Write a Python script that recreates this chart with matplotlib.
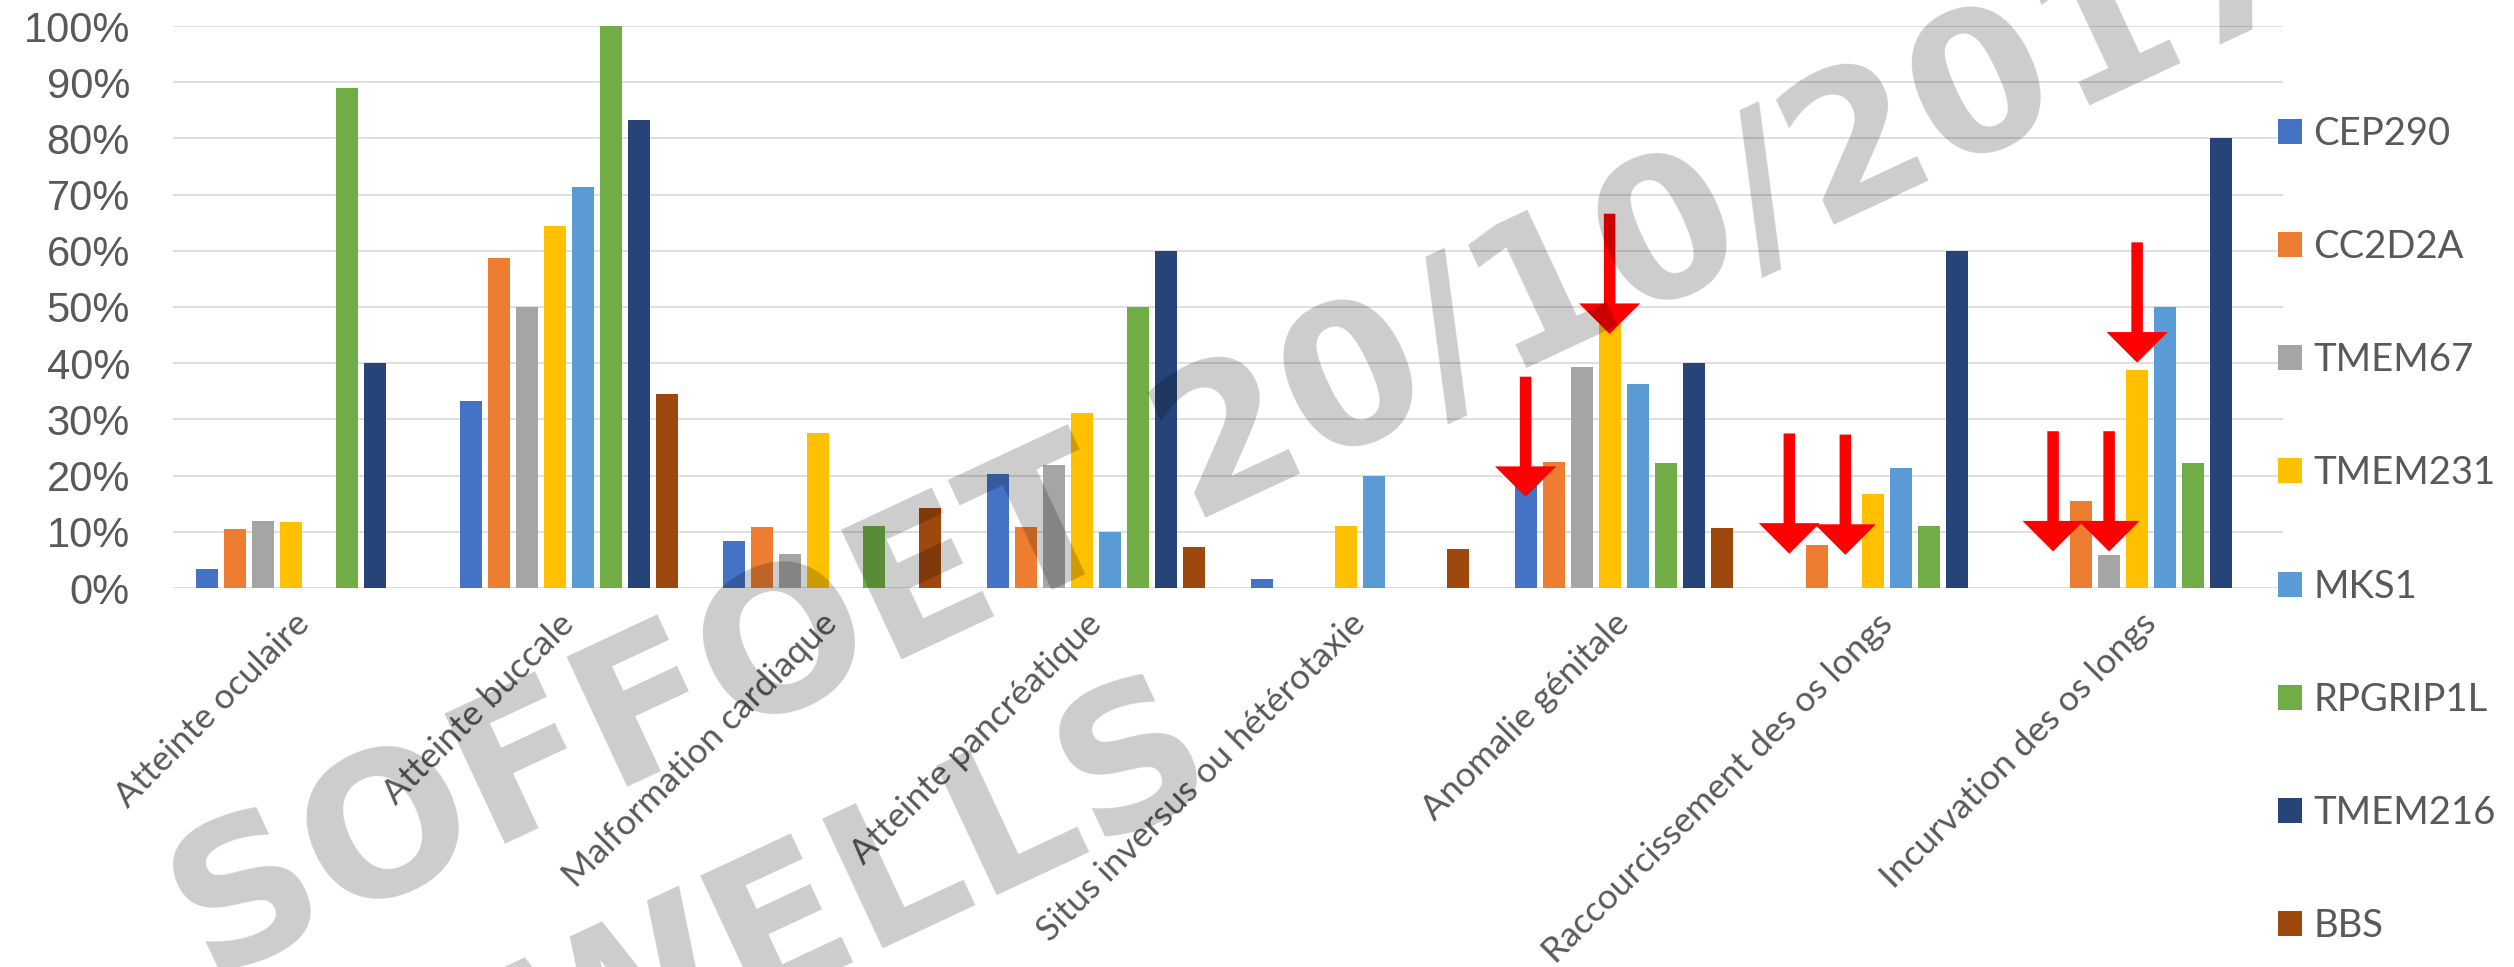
import numpy as np
import matplotlib
matplotlib.use("Agg")
import matplotlib.pyplot as plt
from matplotlib.ticker import PercentFormatter

categories = ["Atteinte oculaire", "Atteinte buccale", "Malformation cardiaque",
              "Atteinte pancréatique", "Situs inversus ou hétérotaxie",
              "Anomalie génitale", "Raccourcissement des os longs",
              "Incurvation des os longs"]
genes = ["CEP290", "CC2D2A", "TMEM67", "TMEM231", "MKS1", "RPGRIP1L", "TMEM216", "BBS"]
colors = ["#4472C4", "#ED7D31", "#A5A5A5", "#FFC000", "#5B9BD5", "#70AD47", "#264478", "#9E480E"]

# % of cases, one list per gene, in category order
cep290 = [3.3, 33.3, 8.3, 20.3, 1.6, 18.5, 0, 0]
cc2d2a = [10.5, 58.8, 10.8, 10.8, 0, 22.5, 7.7, 15.4]
tmem67 = [12.0, 50.0, 6.0, 21.9, 0, 39.3, 0, 5.9]
tmem231 = [11.7, 64.5, 27.6, 31.2, 11.1, 47.0, 16.7, 38.8]
mks1 = [0, 71.4, 0, 10.0, 20.0, 36.3, 21.4, 50.0]
rpgrip1l = [88.9, 100, 11.1, 50.0, 0, 22.2, 11.1, 22.2]
tmem216 = [40.0, 83.3, 0, 60.0, 0, 40.0, 60.0, 80.0]
bbs = [0, 34.5, 14.3, 7.3, 7.0, 10.7, 0, 0]
series = [cep290, cc2d2a, tmem67, tmem231, mks1, rpgrip1l, tmem216, bbs]

# red arrows drawn on the chart: category, gene, tip height (%)
arrow_cat = [5, 5, 6, 6, 7, 7, 7]
arrow_gene = [0, 3, 0, 2, 0, 2, 3]
arrow_tip = [16.2, 45.2, 6.1, 5.9, 6.5, 6.5, 40.1]
arrow_len = 21.4

grey_txt = "#595959"

fig = plt.figure(figsize=(25.14, 9.67), dpi=100)
ax = fig.add_axes([173 / 2514, 1 - 588 / 967, 2110 / 2514, 562 / 967])

x = np.arange(len(categories))
step = 0.1062
width = 0.0834
for j, (vals, name, c) in enumerate(zip(series, genes, colors)):
    ax.bar(x + (j - 3.5) * step, vals, width, color=c, label=name, linewidth=0)

for ci, gi, tip in zip(arrow_cat, arrow_gene, arrow_tip):
    xc = ci + (gi - 3.5) * step
    ax.annotate("", xy=(xc, tip), xytext=(xc, tip + arrow_len),
                arrowprops=dict(arrowstyle="simple,head_width=44,head_length=22,tail_width=8.3",
                                mutation_scale=1, color="#FF0000", lw=0,
                                shrinkA=0, shrinkB=0))

ax.set_xlim(-0.5, len(categories) - 0.5)
ax.set_ylim(0, 100)
ax.set_yticks(np.arange(0, 101, 10))
ax.yaxis.set_major_formatter(PercentFormatter(decimals=0))
ax.yaxis.grid(True, color="#D9D9D9", linewidth=1.2)
ax.set_axisbelow(True)
for s in ax.spines.values():
    s.set_visible(False)
ax.tick_params(axis="both", length=0)
ax.tick_params(axis="y", pad=31, labelsize=30, labelcolor=grey_txt)
for lab in ax.get_yticklabels():
    lab.set_fontfamily("Liberation Sans")

ax.set_xticks(x)
ax.set_xticklabels(categories, rotation=45, ha="right", va="center",
                   rotation_mode="anchor", fontsize=25.5, color=grey_txt,
                   family="Lato")
ax.tick_params(axis="x", pad=22)

fig.legend(loc="center left", bbox_to_anchor=(2278 / 2514, 1 - 530 / 967),
           frameon=False, prop={"family": "Lato", "size": 27.5},
           labelcolor=grey_txt, handlelength=0.63, handleheight=0.63,
           handletextpad=0.3, labelspacing=2.02, borderpad=0, borderaxespad=0)

# watermark over the chart
fig.text(1263 / 2514, 1 - 491 / 967, "SOFFOET 20/10/2017", rotation=25,
         rotation_mode="anchor", ha="center", va="baseline",
         fontsize=142, fontweight="bold", family="DejaVu Sans",
         color="black", alpha=0.2)
fig.text(885 / 2514, 1 - 945 / 967, "WELLS", rotation=25,
         rotation_mode="anchor", ha="center", va="baseline",
         fontsize=142, fontweight="bold", family="DejaVu Sans",
         color="black", alpha=0.2)

fig.savefig("out.png", dpi=100)
